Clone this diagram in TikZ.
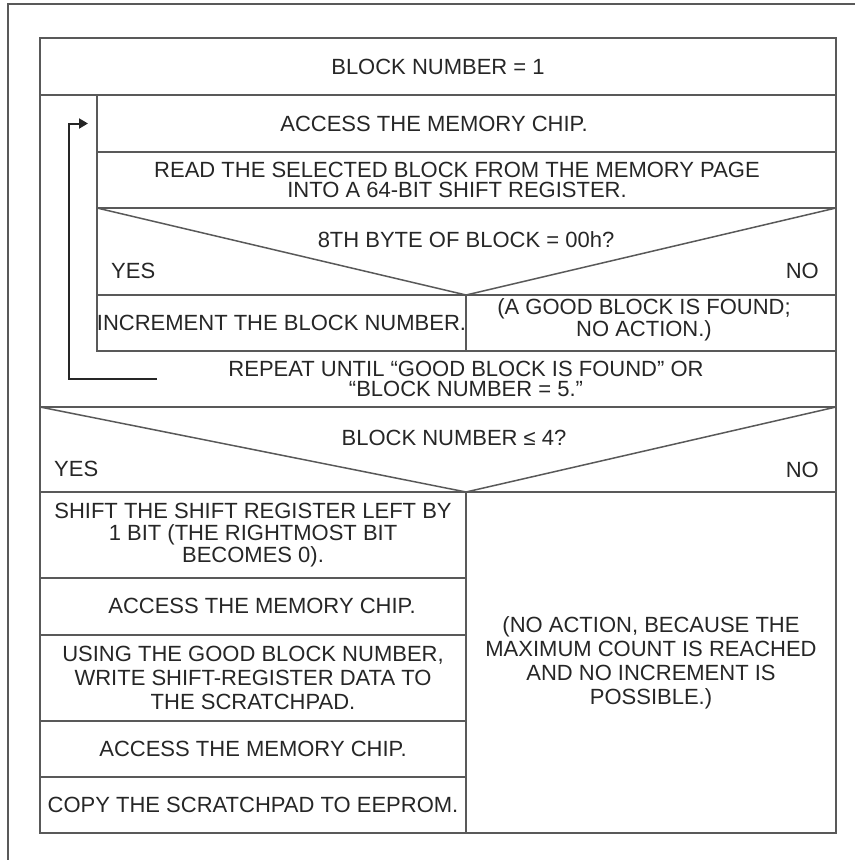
\documentclass[tikz,border=0pt]{standalone}
\usepackage{fontspec}
\setmainfont{Liberation Sans}
\usetikzlibrary{arrows.meta,positioning}
\colorlet{linegray}{black!65}
\colorlet{textgray}{black!85}

\begin{document}
\begin{tikzpicture}[x=1pt,y=-1pt,
    cell/.style={draw=linegray,line width=2pt,inner sep=0pt,outer sep=0pt,
      align=center,text=textgray,font=\fontsize{22}{20}\selectfont},
    label/.style={inner sep=0pt,align=center,text=textgray,
      font=\fontsize{22}{20}\selectfont},
    wide/.style={font=\fontsize{22}{22}\selectfont},
    wider/.style={font=\fontsize{22}{24}\selectfont},
    flow/.style={draw=black!85,line width=2pt,
      -{Triangle[length=9pt,width=10pt]},shorten >=9pt}]
  \useasboundingbox (0,0) rectangle (855,860);
  % page frame
  \draw[linegray,line width=2pt] (8,860) -- (8,4) -- (855,4);
  % main box
  \draw[linegray,line width=2pt] (40,38) rectangle (836,833);
  \node[cell,minimum width=796pt,minimum height=57pt] (blk) at (438,66.5) {BLOCK NUMBER = 1};
  % loop body
  \node[cell,minimum width=739pt,minimum height=57pt] (acc1) at (466.5,123.5) {};
  \node[label] (acc1txt) at (434,124) {ACCESS THE MEMORY CHIP.};
  \node[cell,minimum width=739pt,minimum height=56pt] (read) at (466.5,180) {};
  \node[label] (readtxt) at (457,179.5)
    {READ THE SELECTED BLOCK FROM THE MEMORY PAGE\\INTO A 64-BIT SHIFT REGISTER.};
  \node[cell,minimum width=739pt,minimum height=87pt] (t1box) at (466.5,251.5) {};
  \node[cell,minimum width=369pt,minimum height=56pt] (incr) at (281.5,323) {INCREMENT THE BLOCK NUMBER.};
  \node[cell,minimum width=370pt,minimum height=56pt] (good) at (651,323) {};
  \node[label] (goodtxt) at (644,320) {(A GOOD BLOCK IS FOUND;\\NO ACTION.)};
  \draw[linegray,line width=1.5pt] (t1box.north west) -- (incr.north east) -- (t1box.north east);
  \node[label] (test1) at (466,240) {8TH BYTE OF BLOCK = 00h?};
  \node[label,anchor=west] (yes1) at (111,271) {YES};
  \node[label,anchor=east] (no1) at (819,271) {NO};
  \node[label] (rep) at (466,378.5) {REPEAT UNTIL “GOOD BLOCK IS FOUND” OR\\“BLOCK NUMBER = 5.”};
  \coordinate (ret) at (157,379);
  \draw[flow] (ret) -| ([xshift=-28pt]acc1.west) -- (acc1.west);
  % second test
  \node[cell,minimum width=796pt,minimum height=85pt] (t2box) at (438,449.5) {};
  \node[cell,wide,minimum width=426pt,minimum height=86pt] (shift) at (253,535)
    {SHIFT THE SHIFT REGISTER LEFT BY\\1 BIT (THE RIGHTMOST BIT\\BECOMES 0).};
  \draw[linegray,line width=1.5pt] (t2box.north west) -- (shift.north east) -- (t2box.north east);
  \node[label] (test2) at (454,438) {BLOCK NUMBER ≤ 4?};
  \node[label,anchor=west] (yes2) at (54,469) {YES};
  \node[label,anchor=east] (no2) at (819,470) {NO};
  \node[cell,minimum width=426pt,minimum height=57pt] (acc2) at (253,606.5) {};
  \node[label] (acc2txt) at (262,606) {ACCESS THE MEMORY CHIP.};
  \node[cell,wider,minimum width=426pt,minimum height=86pt] (write) at (253,678)
    {USING THE GOOD BLOCK NUMBER,\\WRITE SHIFT-REGISTER DATA TO\\THE SCRATCHPAD.};
  \node[cell,minimum width=426pt,minimum height=56pt] (acc3) at (253,749) {ACCESS THE MEMORY CHIP.};
  \node[cell,minimum width=426pt,minimum height=56pt] (copy) at (253,805) {COPY THE SCRATCHPAD TO EEPROM.};
  \node[cell,wider,minimum width=370pt,minimum height=341pt] (noact) at (651,662.5)
    {(NO ACTION, BECAUSE THE\\MAXIMUM COUNT IS REACHED\\AND NO INCREMENT IS\\POSSIBLE.)};
\end{tikzpicture}
\end{document}
